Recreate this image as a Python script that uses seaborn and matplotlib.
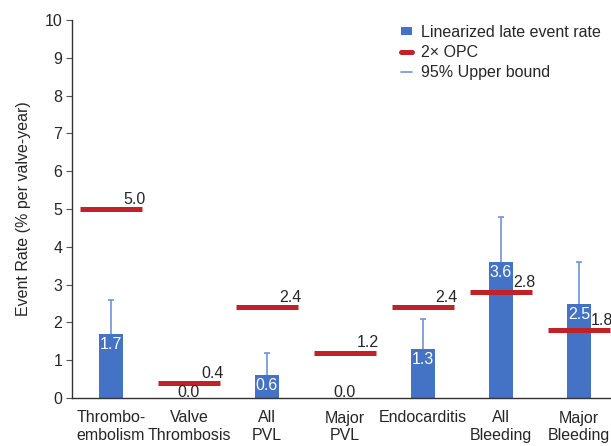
import numpy as np
import pandas as pd
import matplotlib
matplotlib.use("Agg")
import matplotlib.pyplot as plt
from matplotlib.lines import Line2D
from matplotlib.patches import Patch
import seaborn as sns

# Late event rates per valve-year with objective performance criteria
categories = ["Thrombo-\nembolism", "Valve\nThrombosis", "All\nPVL", "Major\nPVL",
              "Endocarditis", "All\nBleeding", "Major\nBleeding"]
event_rate = [1.7, 0.0, 0.6, 0.0, 1.3, 3.6, 2.5]
upper_bound = [2.6, np.nan, 1.2, np.nan, 2.1, 4.8, 3.6]
opc_2x = [5.0, 0.4, 2.4, 1.2, 2.4, 2.8, 1.8]
y_ticks = list(range(0, 11))

BAR_BLUE = "#4472C4"
OPC_RED = "#C0222A"
ERR_BLUE = "#7096D6"
TEXT = "#262626"
FS = 11.5

sns.set_theme(style="white")
plt.rcParams["font.family"] = ["Liberation Sans", "DejaVu Sans"]

fig = plt.figure(figsize=(6.11, 4.46), dpi=100)
ax = fig.add_axes([72 / 611, 48 / 446, 546 / 611, 378 / 446])

df = pd.DataFrame({"category": categories, "rate": event_rate})
sns.barplot(data=df, x="category", y="rate", color=BAR_BLUE, saturation=1,
            width=0.32, ax=ax, errorbar=None, edgecolor="none")

x = np.arange(len(categories))
rate = np.array(event_rate)
ub = np.array(upper_bound)
has_ub = ~np.isnan(ub)

# One-sided upper confidence whiskers with a small cap
ax.vlines(x[has_ub], rate[has_ub], ub[has_ub], color=ERR_BLUE, lw=1.2, zorder=3)
ax.hlines(ub[has_ub], x[has_ub] - 0.035, x[has_ub] + 0.035, color=ERR_BLUE,
          lw=1.2, zorder=3)

# 2x OPC threshold markers
ax.hlines(opc_2x, x - 0.4, x + 0.4, color=OPC_RED, lw=3.6, zorder=4)
for xi, v in zip(x, opc_2x):
    ax.text(xi + 0.44, v + 0.06, f"{v:.1f}", ha="right", va="bottom",
            fontsize=FS, color=TEXT, zorder=5)

# Bar value labels
for xi, v in zip(x, event_rate):
    if v > 0:
        ax.text(xi, v - 0.08, f"{v:.1f}", ha="center", va="top",
                fontsize=FS, color="white", zorder=5)
    else:
        ax.text(xi, -0.06, f"{v:.1f}", ha="center", va="bottom",
                fontsize=FS, color=TEXT, zorder=5)

ax.set_xlim(-0.5, len(categories) - 0.5)
ax.set_ylim(0, 10)
ax.set_yticks(y_ticks)
ax.set_yticklabels([str(t) for t in y_ticks], fontsize=FS, color=TEXT)
ax.tick_params(axis="y", which="both", left=True, length=4, width=0.8,
               color="#555555", pad=3)
ax.tick_params(axis="x", bottom=False, labelsize=FS, labelcolor=TEXT, pad=3)
for lbl in ax.get_xticklabels():
    lbl.set_verticalalignment("top")
ax.set_xlabel("")
ax.set_ylabel("Event Rate (% per valve-year)", fontsize=FS, color=TEXT,
              labelpad=10)

sns.despine(ax=ax, top=True, right=True)
for side in ("left", "bottom"):
    ax.spines[side].set_color("#333333")
    ax.spines[side].set_linewidth(1.0)

handles = [
    Patch(facecolor=BAR_BLUE, edgecolor="none"),
    Line2D([0], [0], color=OPC_RED, lw=3.6),
    Line2D([0], [0], color=ERR_BLUE, lw=1.2),
]
labels = ["Linearized late event rate", "2\u00d7 OPC", "95% Upper bound"]
leg = ax.legend(handles, labels, loc="upper left",
                bbox_to_anchor=(401 / 611, 1 - 25 / 446),
                bbox_transform=fig.transFigure, frameon=False,
                fontsize=FS, handlelength=0.7, handleheight=0.4,
                handletextpad=0.55, labelspacing=0.3, borderpad=0,
                borderaxespad=0)
for t in leg.get_texts():
    t.set_color(TEXT)

fig.savefig("out.png", dpi=100)
